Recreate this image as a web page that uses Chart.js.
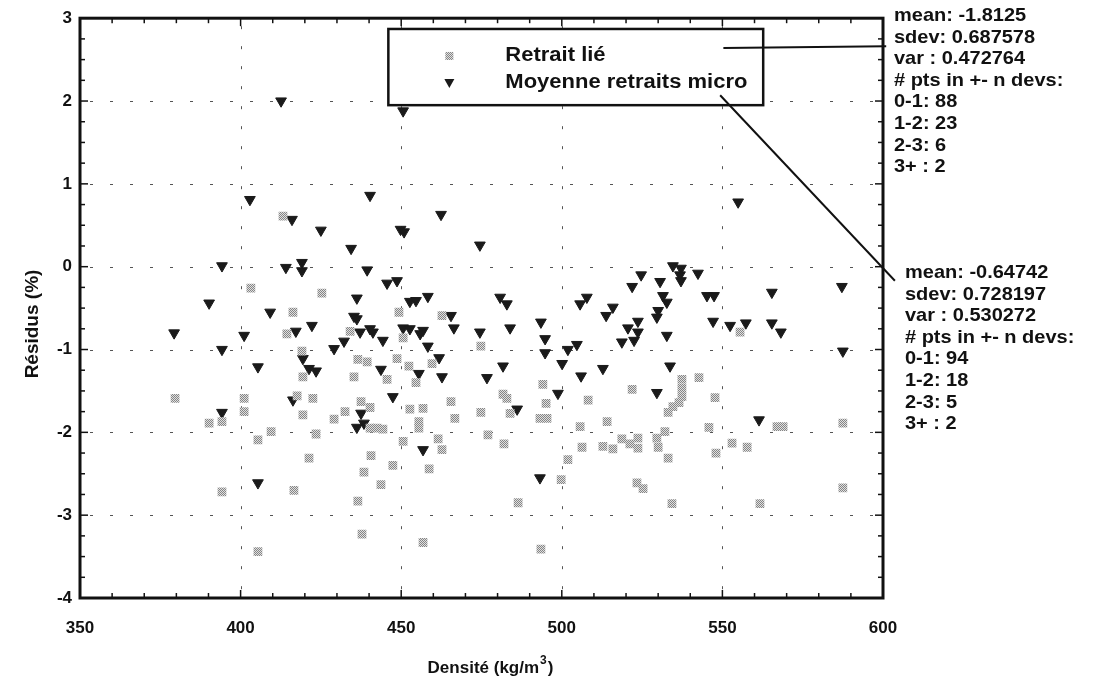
<!DOCTYPE html>
<html>
<head>
<meta charset="utf-8">
<script src="https://cdn.jsdelivr.net/npm/chart.js@4.4.1/dist/chart.umd.min.js"></script>
<style>
html,body{margin:0;padding:0;background:#fff;}
canvas{display:block;}
</style>
</head>
<body>
<canvas id="c" width="1103" height="690"></canvas>
<script>
// ---- Data: "Retrait lié" (gray squares)
const lieX = [413.2,403.2,425.3,416.3,449.3,462.7,555.5,414.4,434.1,450.6,474.8,419.1,436.5,439.4,448.7,452.4,459.6,419.4,435.3,445.6,454.6,494.1,521.9,542.7,537.4,537.4,537.4,536.5,534.6,533.1,547.7,379.6,401.1,422.5,417.6,481.7,482.9,465.5,495.1,508.2,401.1,432.5,437.5,440.3,452.7,456.8,419.4,429.1,466.7,474.8,483.9,493.2,495.4,455.5,455.5,394.2,390.2,440.3,442.5,444.3,505.7,514.1,545.8,532.1,567.0,568.9,587.5,409.5,405.4,423.5,450.6,461.5,462.7,477.0,482.0,506.3,512.8,515.9,518.7,521.2,523.7,523.7,529.6,530.0,553.0,557.7,548.0,533.1,501.9,421.3,440.6,447.4,458.7,438.4,443.7,499.8,523.4,525.3,587.5,394.2,416.6,436.5,486.4,534.3,561.7,437.8,456.8,493.5,405.4];
const lieY = [0.61,-0.26,-0.32,-0.55,-0.55,-0.59,-0.79,-0.81,-0.78,-0.86,-0.96,-1.02,-1.12,-1.15,-1.11,-1.20,-1.17,-1.33,-1.33,-1.36,-1.40,-1.42,-1.48,-1.34,-1.36,-1.47,-1.57,-1.64,-1.69,-1.76,-1.58,-1.59,-1.59,-1.59,-1.56,-1.54,-1.59,-1.63,-1.65,-1.61,-1.75,-1.75,-1.63,-1.70,-1.72,-1.71,-1.79,-1.84,-1.83,-1.76,-1.77,-1.83,-1.83,-1.87,-1.95,-1.87,-1.89,-1.95,-1.95,-1.96,-1.93,-1.87,-1.94,-1.99,-1.93,-1.93,-1.89,-1.99,-2.09,-2.02,-2.11,-2.08,-2.21,-2.03,-2.14,-2.18,-2.17,-2.20,-2.08,-2.14,-2.07,-2.19,-2.07,-2.18,-2.13,-2.18,-2.25,-2.31,-2.33,-2.31,-2.28,-2.40,-2.44,-2.48,-2.63,-2.57,-2.61,-2.68,-2.67,-2.72,-2.70,-2.83,-2.85,-2.86,-2.86,-3.23,-3.33,-3.41,-3.44];

// ---- Data: "Moyenne retraits micro" (black triangles)
const microX = [412.6,450.6,402.9,440.3,554.9,462.4,416.0,425.0,449.8,450.9,474.5,434.4,394.2,414.1,419.1,419.1,439.4,534.6,537.1,536.8,537.1,524.7,542.4,530.6,521.9,587.2,445.6,448.7,531.5,532.7,545.2,547.4,565.4,436.2,452.7,454.6,458.3,480.8,482.9,505.7,507.8,513.8,515.9,530.0,529.6,390.2,409.2,465.5,435.3,436.2,493.5,523.7,547.1,552.4,557.3,565.4,568.2,422.2,450.6,452.7,456.8,455.9,466.4,483.9,474.5,520.6,523.7,417.2,401.1,379.3,437.2,440.3,441.2,518.7,522.5,532.7,432.2,444.3,494.8,429.1,394.2,458.3,501.9,504.7,494.8,587.5,461.8,419.4,500.1,405.4,421.3,423.5,443.7,481.7,512.8,533.7,455.5,462.7,476.7,506.0,498.8,529.6,447.4,416.3,486.1,394.2,437.5,438.4,436.2,561.4,456.8,493.2,405.4];
const microY = [2.00,1.88,0.81,0.86,0.78,0.63,0.57,0.44,0.45,0.42,0.26,0.22,0.01,-0.01,0.05,-0.05,-0.04,0.01,-0.02,-0.10,-0.17,-0.10,-0.08,-0.18,-0.24,-0.24,-0.20,-0.17,-0.35,-0.43,-0.35,-0.35,-0.31,-0.38,-0.42,-0.41,-0.36,-0.37,-0.45,-0.45,-0.37,-0.59,-0.49,-0.53,-0.61,-0.44,-0.55,-0.59,-0.60,-0.63,-0.67,-0.66,-0.66,-0.71,-0.68,-0.68,-0.79,-0.71,-0.74,-0.75,-0.77,-0.81,-0.74,-0.74,-0.79,-0.74,-0.79,-0.78,-0.83,-0.80,-0.79,-0.75,-0.79,-0.91,-0.89,-0.83,-0.90,-0.89,-0.87,-0.99,-1.00,-0.96,-1.00,-0.94,-1.04,-1.02,-1.10,-1.11,-1.17,-1.21,-1.23,-1.26,-1.24,-1.20,-1.23,-1.20,-1.29,-1.33,-1.34,-1.32,-1.53,-1.52,-1.57,-1.61,-1.72,-1.76,-1.77,-1.89,-1.94,-1.85,-2.21,-2.55,-2.61];

// ---- Labels and texts
const seriesNames = ['Retrait lié', 'Moyenne retraits micro'];
const xTitleMain = 'Densité (kg/m';
const xTitleSup = '3';
const xTitleEnd = ')';
const yTitle = 'Résidus (%)';
const xTickValues = [350, 400, 450, 500, 550, 600];
const yTickValues = [-4, -3, -2, -1, 0, 1, 2, 3];
const statsLie = ['mean: -1.8125','sdev: 0.687578','var : 0.472764','# pts in +- n devs:','0-1: 88','1-2: 23','2-3: 6','3+ : 2'];
const statsMicro = ['mean: -0.64742','sdev: 0.728197','var : 0.530272','# pts in +- n devs:','0-1: 94','1-2: 18','2-3: 5','3+ : 2'];

const FONT = '"Liberation Sans", Arial, Helvetica, sans-serif';

function makePattern(){
  const p = document.createElement('canvas');
  p.width = 2; p.height = 2;
  const g = p.getContext('2d');
  g.fillStyle = '#e0e0e0'; g.fillRect(0,0,2,2);
  g.fillStyle = '#858585'; g.fillRect(0,0,1,1); g.fillRect(1,1,1,1);
  return document.getElementById('c').getContext('2d').createPattern(p,'repeat');
}
const grayPat = makePattern();

const lieData = lieX.map((x,i)=>({x, y: lieY[i]}));
const microData = microX.map((x,i)=>({x, y: microY[i]}));

// text drawn with a slight horizontal stretch, like the scanned original
function wideText(ctx, t, x, y, sx){
  ctx.save(); ctx.translate(x, y); ctx.scale(sx, 1); ctx.fillText(t, 0, 0); ctx.restore();
}

const decor = {
  id: 'decor',
  beforeDatasetsDraw(chart){
    const ctx = chart.ctx, a = chart.chartArea, xs = chart.scales.x, ys = chart.scales.y;
    ctx.save();
    // dashed grid
    ctx.strokeStyle = '#555'; ctx.lineWidth = 1; ctx.setLineDash([3,17]);
    yTickValues.forEach(v=>{
      if (v===-4||v===3) return;
      const y = Math.round(ys.getPixelForValue(v))+0.5;
      ctx.beginPath(); ctx.moveTo(a.left+10,y); ctx.lineTo(a.right,y); ctx.stroke();
    });
    xTickValues.forEach(v=>{
      if (v===350||v===600) return;
      const x = Math.round(xs.getPixelForValue(v))+0.5;
      ctx.beginPath(); ctx.moveTo(x,a.top+8); ctx.lineTo(x,a.bottom); ctx.stroke();
    });
    ctx.setLineDash([]);
    // legend box
    const lx0 = xs.getPixelForValue(446), lx1 = xs.getPixelForValue(562.7);
    const ly0 = ys.getPixelForValue(2.87), ly1 = ys.getPixelForValue(1.95);
    ctx.fillStyle = '#fff';
    ctx.fillRect(lx0, ly0, lx1-lx0, ly1-ly0);
    ctx.strokeStyle = '#111'; ctx.lineWidth = 2.5;
    ctx.strokeRect(lx0, ly0, lx1-lx0, ly1-ly0);
    const mx = lx0 + 61, tx = lx0 + 117;
    const r1 = ly0 + 27, r2 = ly0 + 54;
    ctx.fillStyle = grayPat; ctx.fillRect(mx-4, r1-4, 8, 8);
    ctx.fillStyle = '#1a1a1a';
    ctx.beginPath(); ctx.moveTo(mx-5, r2-4); ctx.lineTo(mx+5, r2-4); ctx.lineTo(mx, r2+5); ctx.closePath(); ctx.fill();
    ctx.font = 'bold 20px ' + FONT; ctx.textBaseline = 'middle'; ctx.textAlign = 'left';
    ctx.fillStyle = '#111';
    wideText(ctx, seriesNames[0], tx, r1, 1.1);
    wideText(ctx, seriesNames[1], tx, r2, 1.1);
    ctx.restore();
  },
  afterDraw(chart){
    const ctx = chart.ctx, a = chart.chartArea, xs = chart.scales.x, ys = chart.scales.y;
    ctx.save();
    ctx.strokeStyle = '#111';
    // ticks
    ctx.lineWidth = 1.5;
    for (let v = 350; v <= 600; v += 10){
      const x = xs.getPixelForValue(v);
      const len = (v % 50 === 0) ? 8 : 5;
      ctx.beginPath(); ctx.moveTo(x, a.bottom); ctx.lineTo(x, a.bottom-len); ctx.stroke();
      ctx.beginPath(); ctx.moveTo(x, a.top); ctx.lineTo(x, a.top+len); ctx.stroke();
    }
    for (let k = -16; k <= 12; k++){
      const v = k/4;
      const y = ys.getPixelForValue(v);
      const len = (k % 4 === 0) ? 8 : 5;
      ctx.beginPath(); ctx.moveTo(a.left, y); ctx.lineTo(a.left+len, y); ctx.stroke();
      ctx.beginPath(); ctx.moveTo(a.right, y); ctx.lineTo(a.right-len, y); ctx.stroke();
    }
    // frame
    ctx.lineWidth = 3;
    ctx.strokeRect(a.left, a.top, a.right-a.left, a.bottom-a.top);
    // pointer lines
    ctx.lineWidth = 2;
    ctx.beginPath();
    ctx.moveTo(xs.getPixelForValue(550.3), ys.getPixelForValue(2.64));
    ctx.lineTo(xs.getPixelForValue(601), ys.getPixelForValue(2.66));
    ctx.stroke();
    ctx.beginPath();
    ctx.moveTo(xs.getPixelForValue(549.3), ys.getPixelForValue(2.07));
    ctx.lineTo(xs.getPixelForValue(603.7), ys.getPixelForValue(-0.17));
    ctx.stroke();
    // stats text
    ctx.fillStyle = '#111';
    ctx.font = 'bold 18.5px ' + FONT; ctx.textAlign = 'left'; ctx.textBaseline = 'middle';
    statsLie.forEach((t,i)=> wideText(ctx, t, a.right + 11, 16 + i*21.6, 1.08));
    statsMicro.forEach((t,i)=> wideText(ctx, t, a.right + 22, 273 + i*21.6, 1.08));
    // x axis title with superscript
    ctx.font = 'bold 17px ' + FONT;
    const w1 = ctx.measureText(xTitleMain).width;
    ctx.font = 'bold 12px ' + FONT;
    const w2 = ctx.measureText(xTitleSup).width;
    ctx.font = 'bold 17px ' + FONT;
    const w3 = ctx.measureText(xTitleEnd).width;
    let sx = (a.left + a.right)/2 + 8 - (w1+w2+w3)/2;
    ctx.textAlign = 'left';
    ctx.fillText(xTitleMain, sx, 668);
    ctx.font = 'bold 12px ' + FONT;
    ctx.fillText(xTitleSup, sx + w1 + 1, 661);
    ctx.font = 'bold 17px ' + FONT;
    ctx.fillText(xTitleEnd, sx + w1 + w2 + 2, 668);
    // y axis title
    ctx.font = 'bold 19px ' + FONT; ctx.textAlign = 'center';
    ctx.save();
    ctx.translate(33, 324); ctx.rotate(-Math.PI/2);
    ctx.fillText(yTitle, 0, 0);
    ctx.restore();
    ctx.restore();
  }
};

new Chart(document.getElementById('c'), {
  type: 'scatter',
  data: {
    datasets: [
      { label: seriesNames[0], data: lieData, pointStyle: 'rect', pointRadius: 6.2, backgroundColor: grayPat, borderWidth: 0, pointHoverRadius: 6.2 },
      { label: seriesNames[1], data: microData, pointStyle: 'triangle', rotation: 180, pointRadius: 6.2, backgroundColor: '#1a1a1a', borderColor: '#1a1a1a', borderWidth: 1 }
    ]
  },
  options: {
    responsive: false, animation: false, devicePixelRatio: 1,
    layout: { padding: { top: 13, right: 220, left: 0, bottom: 0 } },
    plugins: { legend: { display: false }, tooltip: { enabled: false } },
    scales: {
      x: {
        type: 'linear', min: 350, max: 600,
        afterBuildTicks(s){ s.ticks = xTickValues.map(v=>({value:v})); },
        ticks: { color: '#111', font: { family: FONT, size: 17, weight: 'bold' }, padding: 20, maxRotation: 0 },
        grid: { display: false, drawTicks: false }, border: { display: false },
        afterFit(s){ s.height = 92; }
      },
      y: {
        type: 'linear', min: -4, max: 3,
        afterBuildTicks(s){ s.ticks = yTickValues.map(v=>({value:v})); },
        ticks: { color: '#111', font: { family: FONT, size: 17, weight: 'bold' }, padding: 8 },
        grid: { display: false, drawTicks: false }, border: { display: false },
        afterFit(s){ s.width = 80; }
      }
    }
  },
  plugins: [decor]
});
</script>
</body>
</html>
